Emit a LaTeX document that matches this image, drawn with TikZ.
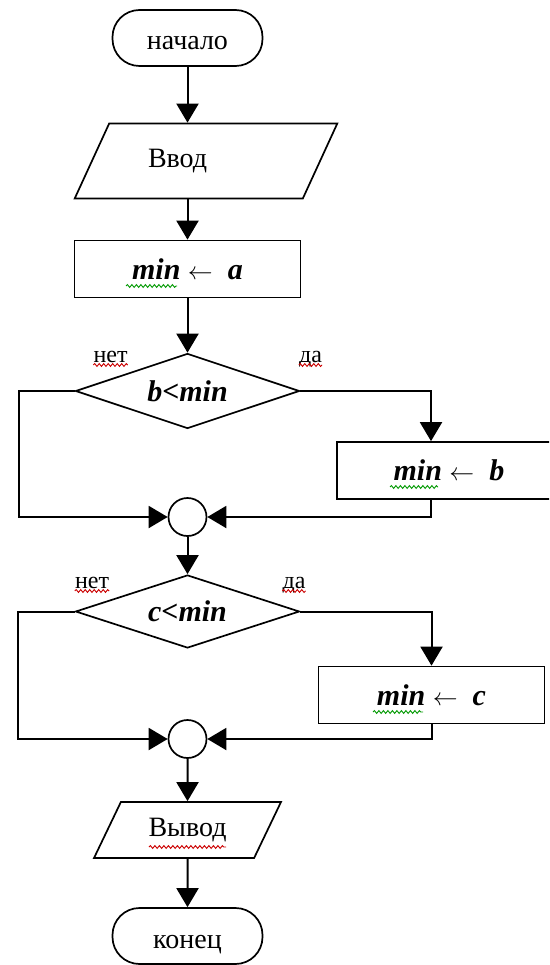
\documentclass[tikz,border=0pt]{standalone}
\usepackage{fontspec}
\setmainfont{Liberation Serif}
\usetikzlibrary{shapes.geometric,arrows.meta,decorations.pathmorphing}

\newcommand{\mvar}[1]{\textbf{\textit{#1}}}

\begin{document}
\begin{tikzpicture}[x=1pt,y=-1pt,
    terminal/.style={draw,line width=1.7pt,rectangle,rounded corners=27pt,
      minimum width=150pt,minimum height=56pt,inner sep=0pt,
      text height=24pt,text depth=0pt,font=\fontsize{28}{30}\selectfont},
    iobox/.style={draw,line width=1.7pt,trapezium,trapezium stretches=true,
      inner sep=0pt,font=\fontsize{28}{30}\selectfont},
    process/.style={draw,line width=1.7pt,rectangle,minimum width=226pt,
      minimum height=57pt,inner sep=0pt,font=\fontsize{30}{32}\selectfont},
    decision/.style={draw,line width=1.7pt,diamond,aspect=3,minimum width=224pt,
      minimum height=75pt,inner sep=0pt,font=\fontsize{30}{32}\selectfont},
    joint/.style={draw,line width=1.7pt,circle,minimum size=38pt,inner sep=0pt},
    answer/.style={inner sep=0pt,anchor=base,font=\fontsize{24}{26}\selectfont},
    flow/.style={line width=2pt,-{Triangle[width=22pt,length=19pt]}},
    spellred/.style={draw=red!80!black,line width=0.9pt,decorate,
      decoration={snake,amplitude=1.4pt,segment length=4.5pt}},
    spellgreen/.style={spellred,draw=green!60!black}]

      % Page
      \path[use as bounding box,clip] (0,0) rectangle (549,965);
      \fill[white] (0,0) rectangle (549,965);

      % Start and input
      \node[terminal] (start) at (187.5,38) {начало};
      \node[iobox,trapezium left angle=49,trapezium right angle=131,
        minimum width=263pt,minimum height=75pt,text width=116pt,align=left]
        (in) at (206,161) {Ввод};
      \node[process] (setA) at (187.5,269) {\mvar{min} $\leftarrow$\ \ \mvar{a}};

      % First check
      \node[decision] (cond1) at (187.5,391) {\mvar{b<min}};
      \node[answer] (no1) at (110.5,362) {нет};
      \node[answer] (yes1) at (310.5,362) {да};
      \node[process,minimum width=224pt] (setB) at (449,470.5)
        {\mvar{min} $\leftarrow$\ \ \mvar{b}};
      \node[joint] (join1) at (187.5,517) {};

      % Second check
      \node[decision,minimum height=73pt] (cond2) at (187.5,611.5) {\mvar{c<min}};
      \node[answer] (no2) at (92,588) {нет};
      \node[answer] (yes2) at (294,588) {да};
      \node[process] (setC) at (431.5,695) {\mvar{min} $\leftarrow$\ \ \mvar{c}};
      \node[joint] (join2) at (187.5,739) {};

      % Output and end
      \node[iobox,trapezium left angle=56.5,trapezium right angle=123.5,
        minimum width=187pt,minimum height=56pt] (out) at (187.5,830) {Вывод};
      \node[terminal] (end) at (187.5,936) {конец};

      % Connectors
      \draw[flow] (start.south) -- (start.south |- in.north);
      \draw[flow] (start.south |- in.south) -- (setA.north);
      \draw[flow] (setA.south) -- (cond1.north);
      \draw[flow] (cond1.east) -| ([xshift=-18pt]setB.north);
      \draw[flow] (cond1.west) -- ++(-56,0) |- (join1.west);
      \draw[flow] ([xshift=-18pt]setB.south) |- (join1.east);
      \draw[flow] (join1.south) -- (cond2.north);
      \draw[flow] (cond2.east) -| (setC.north);
      \draw[flow] (cond2.west) -- ++(-57,0) |- (join2.west);
      \draw[flow] (setC.south) |- (join2.east);
      \draw[flow] (join2.south) -- (out.north);
      \draw[flow] (out.south) -- (end.north);

      % Spelling marks
      \draw[spellgreen] (126,286) -- (177,286);
      \draw[spellgreen] (390,487) -- (438,487);
      \draw[spellgreen] (373,712) -- (423,712);
      \draw[spellred] ([yshift=-3pt]no1.base west) -- ([yshift=-3pt]no1.base east);
      \draw[spellred] ([yshift=-3pt]yes1.base west) -- ([yshift=-3pt]yes1.base east);
      \draw[spellred] ([yshift=-3pt]no2.base west) -- ([yshift=-3pt]no2.base east);
      \draw[spellred] ([yshift=-3pt]yes2.base west) -- ([yshift=-3pt]yes2.base east);
      \draw[spellred] (149,847) -- (226,847);
\end{tikzpicture}
\end{document}
